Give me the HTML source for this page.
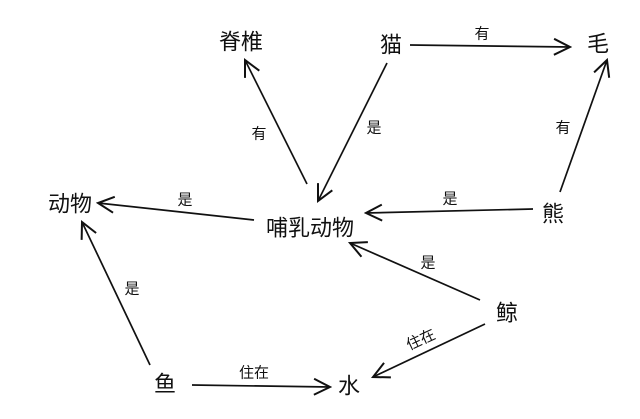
<!DOCTYPE html>
<html><head><meta charset="utf-8"><style>
html,body{margin:0;padding:0;background:#fff;}
svg{display:block;}
text{font-family:"Liberation Sans","Noto Sans CJK SC",sans-serif;fill:#111;}
.n{font-size:22px;}
.l{font-size:15px;}
</style></head><body>
<svg width="640" height="419" viewBox="0 0 640 419" xmlns="http://www.w3.org/2000/svg">
<defs>
<marker id="a" viewBox="0 0 20 20" refX="18" refY="10" markerWidth="20" markerHeight="20" markerUnits="userSpaceOnUse" orient="auto">
<path d="M2 2 L18 10 L2 18" fill="none" stroke="#111" stroke-width="2"/>
</marker>
</defs>
<g stroke="#111" stroke-width="1.7" fill="none" marker-end="url(#a)">
<line x1="410" y1="45" x2="570" y2="47"/>
<line x1="387" y1="63" x2="318" y2="201"/>
<line x1="307" y1="184" x2="245" y2="60"/>
<line x1="560" y1="192" x2="607" y2="60"/>
<line x1="533" y1="209" x2="366" y2="213"/>
<line x1="254" y1="220" x2="98" y2="203"/>
<line x1="480" y1="300" x2="350" y2="243"/>
<line x1="485" y1="324" x2="373" y2="377"/>
<line x1="150" y1="365" x2="82" y2="222"/>
<line x1="192" y1="385" x2="330" y2="387"/>
</g>
<g text-anchor="middle" dominant-baseline="central">
<text class="n" x="241" y="42">脊椎</text>
<text class="n" x="391" y="45">猫</text>
<text class="n" x="598" y="44">毛</text>
<text class="n" x="70" y="204">动物</text>
<text class="n" x="310" y="228">哺乳动物</text>
<text class="n" x="553" y="214">熊</text>
<text class="n" x="507" y="313">鲸</text>
<text class="n" x="165" y="384">鱼</text>
<text class="n" x="349" y="386">水</text>
<text class="l" x="482" y="34">有</text>
<text class="l" x="374" y="128">是</text>
<text class="l" x="259" y="134">有</text>
<text class="l" x="563" y="128">有</text>
<text class="l" x="450" y="199">是</text>
<text class="l" x="185" y="200">是</text>
<text class="l" x="428" y="263">是</text>
<text class="l" x="421" y="340" transform="rotate(-25 421 340)">住在</text>
<text class="l" x="132" y="289">是</text>
<text class="l" x="254" y="373">住在</text>
</g>
</svg>
</body></html>
